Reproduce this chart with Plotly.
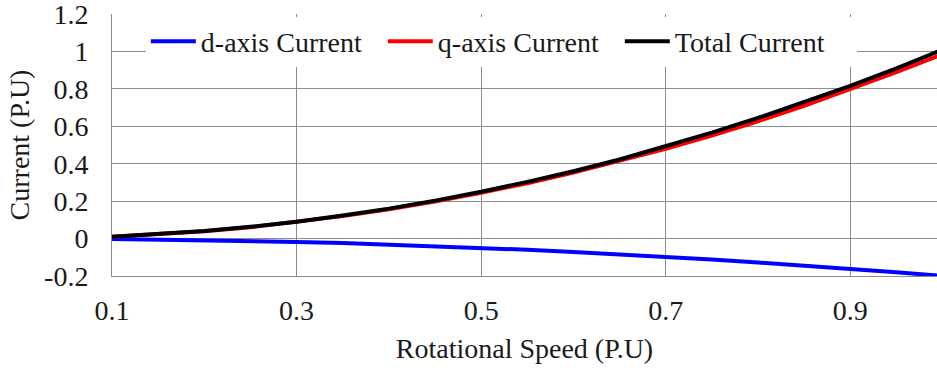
import plotly.graph_objects as go

# values
speed = [0.10, 0.15, 0.20, 0.25, 0.30, 0.35, 0.40, 0.45, 0.50, 0.55,
         0.60, 0.65, 0.70, 0.75, 0.80, 0.85, 0.90, 0.95, 1.00]
d_current = [-0.002, -0.005, -0.008, -0.012, -0.018, -0.024, -0.032, -0.040, -0.050, -0.060,
             -0.072, -0.084, -0.098, -0.112, -0.128, -0.144, -0.162, -0.180, -0.200]
q_current = [0.010, 0.022, 0.039, 0.061, 0.088, 0.120, 0.157, 0.198, 0.245, 0.296,
             0.353, 0.414, 0.480, 0.551, 0.627, 0.710, 0.798, 0.890, 0.985]
total_current = [0.010, 0.023, 0.040, 0.063, 0.090, 0.123, 0.160, 0.203, 0.250, 0.303,
                 0.360, 0.423, 0.492, 0.566, 0.645, 0.728, 0.816, 0.910, 1.010]

x_ticks = [0.1, 0.3, 0.5, 0.7, 0.9]
y_ticks = [-0.2, 0, 0.2, 0.4, 0.6, 0.8, 1, 1.2]
y_ticktext = ['-0.2', '0', '0.2', '0.4', '0.6', '0.8', '1', '1.2']

font_family = 'Liberation Serif, Times New Roman, serif'
grid = '#8c8c8c'

fig = go.Figure()
fig.add_trace(go.Scatter(x=speed, y=d_current, name='d-axis Current', mode='lines',
                         line=dict(color='#0000ff', width=4)))
fig.add_trace(go.Scatter(x=speed, y=q_current, name='q-axis Current', mode='lines',
                         line=dict(color='#ff0000', width=4)))
fig.add_trace(go.Scatter(x=speed, y=total_current, name='Total Current', mode='lines',
                         line=dict(color='#000000', width=4)))

fig.update_layout(
    width=937, height=370,
    margin=dict(l=112, r=0, t=14, b=94),
    paper_bgcolor='white', plot_bgcolor='white',
    font=dict(family=font_family, size=28, color='#1a1a1a'),
    showlegend=True,
    legend=dict(orientation='h', x=0.041, y=0.99, xanchor='left', yanchor='top',
                bgcolor='white', font=dict(size=28), entrywidth=177,
                itemwidth=45, tracegroupgap=0),
)
fig.update_xaxes(
    range=[0.1, 0.994], tickvals=x_ticks, ticktext=[str(v) for v in x_ticks],
    showgrid=True, gridcolor=grid, gridwidth=1,
    showline=True, linecolor=grid, linewidth=1, zeroline=False,
    ticks='', ticklabelstandoff=9, automargin=False,
    title=dict(text='Rotational Speed (P.U)', standoff=13, font=dict(size=28)),
)
fig.update_yaxes(
    range=[-0.2, 1.2005], tickvals=y_ticks, ticktext=y_ticktext,
    showgrid=True, gridcolor=grid, gridwidth=1,
    showline=True, linecolor=grid, linewidth=1, zeroline=False,
    ticks='', ticklabelstandoff=17, automargin=False, ticklabeloverflow='allow',
    title=dict(text='Current (P.U)', standoff=6, font=dict(size=28)),
)

# drop the browser's default body margin so the figure fills the window
fig.write_html("out.html", config={'displayModeBar': False},
               post_script="document.body.style.margin='0';")
